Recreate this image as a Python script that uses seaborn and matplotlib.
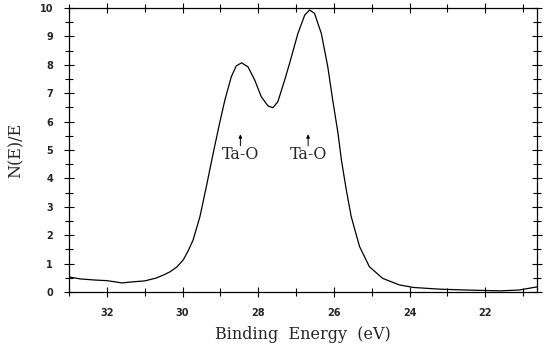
import numpy as np
import pandas as pd
import matplotlib
matplotlib.use("Agg")
import matplotlib.pyplot as plt
import seaborn as sns
from matplotlib.ticker import MultipleLocator

# Data
binding_energy = [33.0, 32.7, 32.3, 32.0, 31.8, 31.6, 31.3, 31.0, 30.7, 30.5, 30.33,
                  30.15, 29.98, 29.85, 29.72, 29.54, 29.37, 29.19, 29.02, 28.88,
                  28.71, 28.58, 28.44, 28.27, 28.09, 27.92, 27.74, 27.61, 27.48,
                  27.30, 27.17, 26.95, 26.77, 26.64, 26.51, 26.33, 26.16, 26.03,
                  25.89, 25.80, 25.67, 25.54, 25.32, 25.06, 24.71, 24.27, 23.9,
                  23.2, 22.5, 21.6, 21.1, 20.63]
intensity = [0.53, 0.46, 0.42, 0.40, 0.36, 0.32, 0.36, 0.39, 0.49, 0.60, 0.71,
             0.88, 1.13, 1.45, 1.83, 2.65, 3.71, 4.88, 5.94, 6.76,
             7.58, 7.96, 8.07, 7.93, 7.46, 6.88, 6.55, 6.49, 6.70,
             7.46, 8.05, 9.10, 9.75, 9.93, 9.81, 9.10, 7.93, 6.76,
             5.59, 4.65, 3.59, 2.65, 1.60, 0.89, 0.48, 0.25, 0.16,
             0.10, 0.07, 0.04, 0.07, 0.18]
peak_labels = ["Ta-O", "Ta-O"]
peak_positions = [28.47, 26.68]

df = pd.DataFrame({"Binding Energy (eV)": binding_energy, "N(E)/E": intensity})

sns.set_style("ticks")
plt.rcParams["font.family"] = ["DejaVu Sans"]
serif = ["DejaVu Serif"]

fig = plt.figure(figsize=(5.48, 3.49), dpi=100)
ax = fig.add_axes([69/548, 57/349, (537-69)/548, (292-8)/349])

sns.lineplot(data=df, x="Binding Energy (eV)", y="N(E)/E", ax=ax,
             color="black", linewidth=0.9, sort=False)

ax.set_xlim(33.0, 20.63)
ax.set_ylim(0, 10)
ax.xaxis.set_major_locator(MultipleLocator(2))
ax.xaxis.set_minor_locator(MultipleLocator(1))
ax.yaxis.set_major_locator(MultipleLocator(1))
ax.yaxis.set_minor_locator(MultipleLocator(0.5))
ax.tick_params(which="both", direction="inout", top=True, right=True,
               labeltop=False, labelright=False, width=0.8, color="black")
ax.tick_params(which="major", length=7)
ax.tick_params(which="minor", length=6)
ax.tick_params(axis="y", which="major", pad=8, labelsize=7)
ax.tick_params(axis="x", which="major", pad=8, labelsize=7)
for lab in ax.get_xticklabels() + ax.get_yticklabels():
    lab.set_fontweight("bold")
for s in ax.spines.values():
    s.set_linewidth(0.9)
    s.set_color("black")

ax.set_xlabel("Binding  Energy  (eV)", family=serif, fontsize=11.5, labelpad=6)
ax.set_ylabel("N(E)/E", family=serif, fontsize=11.5, labelpad=11)

for lab, xp in zip(peak_labels, peak_positions):
    ax.annotate("", xy=(xp, 5.65), xytext=(xp, 5.05),
                arrowprops=dict(arrowstyle="-|>", color="black", lw=0.7,
                                mutation_scale=5))
    ax.text(xp, 4.85, lab, ha="center", va="center", family=serif, fontsize=11.5)

fig.savefig("out.png", dpi=100)
